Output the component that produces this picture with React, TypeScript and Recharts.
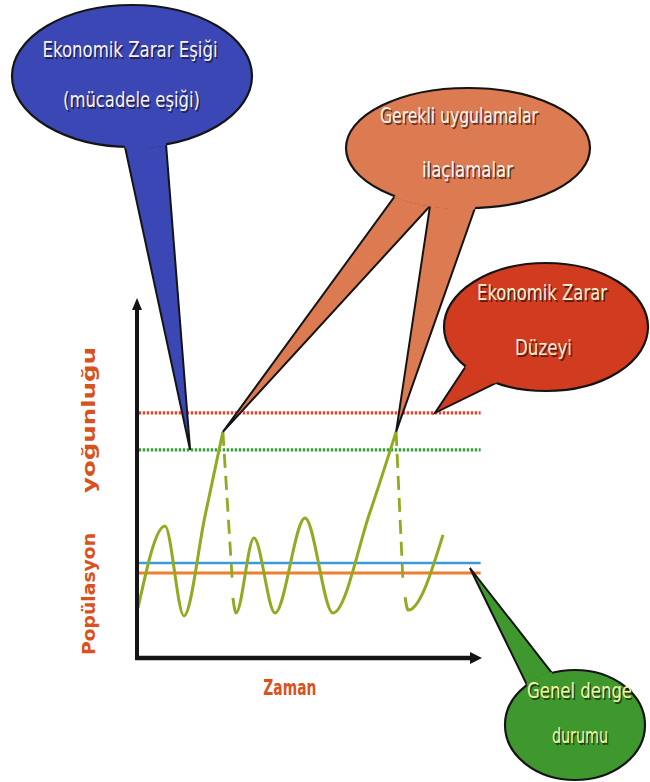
import React from 'react';
import { LineChart, Line, XAxis, YAxis, ReferenceLine, ReferenceArea } from 'recharts';

// ---- data (t = zaman, v = popülasyon yoğunluğu) ----
const X_DOMAIN = [0, 100];
const Y_DOMAIN = [0, 100];

const segment1 = [
  { t: 0.3, v: 13.9 },
  { t: 8.1, v: 36.7 },
  { t: 13.6, v: 11.7 },
  { t: 19.7, v: 39.4 },
  { t: 24.9, v: 62.8 },
];
const drop1 = [
  { t: 24.9, v: 62.8 },
  { t: 27.7, v: 20.3 },
];
const segment2 = [
  { t: 27.8, v: 16.7 },
  { t: 28.7, v: 12.5 },
  { t: 33.9, v: 33.3 },
  { t: 40.0, v: 12.5 },
  { t: 48.7, v: 38.9 },
  { t: 56.8, v: 12.5 },
  { t: 67.5, v: 40.4 },
  { t: 75.1, v: 62.8 },
];
const drop2 = [
  { t: 75.1, v: 62.8 },
  { t: 77.1, v: 21.1 },
];
const segment3 = [
  { t: 77.7, v: 16.9 },
  { t: 78.6, v: 13.3 },
  { t: 88.7, v: 34.2 },
];

const EIL = 68.1; // Ekonomik Zarar Düzeyi
const ETL = 57.8; // Ekonomik Zarar Eşiği
const BALANCE_UPPER = 26.4;
const BALANCE_LOWER = 23.6;
const LINE_START = 0.5;
const LINE_END = 99.6;

const xLabel = 'Zaman';
const yLabelParts = ['Popülasyon', 'yoğunluğu'];

// ---- callout layout (pixels) ; tips anchored on data ----
const FONT = "'Comic Sans MS', 'DejaVu Sans Condensed', 'Liberation Sans Narrow', sans-serif";

type Pt = [number, number];
const callouts = [
  {
    key: 'etl',
    cx: 132, cy: 76, rx: 120, ry: 71,
    fill: '#3b47b5', textColor: '#f4f2ff', fontSize: 22,
    tips: [{ t: 15.4, v: ETL }],
    bases: [[[125, 147], [166, 144]] as Pt[]],
    lines: [
      { text: 'Ekonomik Zarar Eşiği', x: 130, y: 57, w: 175 },
      { text: '(mücadele eşiği)', x: 131.5, y: 107, w: 137 },
    ],
  },
  {
    key: 'apps',
    cx: 468, cy: 148, rx: 122, ry: 60,
    fill: '#dc7a52', textColor: '#fff6ef', fontSize: 21,
    tips: [segment1[segment1.length - 1], segment2[segment2.length - 1]],
    bases: [
      [[395, 196], [430, 206]] as Pt[],
      [[430, 206], [475, 208]] as Pt[],
    ],
    lines: [
      { text: 'Gerekli uygulamalar', x: 459, y: 123, w: 158 },
      { text: 'ilaçlamalar', x: 467.5, y: 177, w: 91 },
    ],
  },
  {
    key: 'eil',
    cx: 546, cy: 327, rx: 102, ry: 64,
    fill: '#d13b1f', textColor: '#fcefd6', fontSize: 22,
    tips: [{ t: 86.4, v: EIL }],
    bases: [[[466, 366], [496, 383]] as Pt[]],
    lines: [
      { text: 'Ekonomik Zarar', x: 542, y: 300, w: 130 },
      { text: 'Düzeyi', x: 543.5, y: 355, w: 57 },
    ],
  },
  {
    key: 'balance',
    cx: 575, cy: 725, rx: 70, ry: 55,
    fill: '#3f982d', textColor: '#eef6a4', fontSize: 21,
    tips: [{ t: 96.5, v: (BALANCE_UPPER + BALANCE_LOWER) / 2 }],
    bases: [[[527, 685], [552, 673]] as Pt[]],
    lines: [
      { text: 'Genel denge', x: 579.5, y: 698, w: 105 },
      { text: 'durumu', x: 580, y: 743, w: 56 },
    ],
  },
];

function extend(tip: Pt, base: Pt, d: number): Pt {
  const dx = base[0] - tip[0];
  const dy = base[1] - tip[1];
  const L = Math.hypot(dx, dy) || 1;
  return [base[0] + (dx / L) * d, base[1] + (dy / L) * d];
}

function Callout({ c, toPx }: any) {
  const polys = c.bases.map((pair: Pt[], i: number) => {
    const tp = c.tips[i];
    const tip: Pt = toPx(tp.t, tp.v);
    const b1 = extend(tip, pair[0], 14);
    const b2 = extend(tip, pair[1], 14);
    return `${tip[0]},${tip[1]} ${b1[0]},${b1[1]} ${b2[0]},${b2[1]}`;
  });
  const clipId = `clip-${c.key}`;
  return (
    <g>
      <defs>
        <clipPath id={clipId}>
          <ellipse cx={c.cx} cy={c.cy} rx={c.rx + 1.6} ry={c.ry + 1.6} />
        </clipPath>
      </defs>
      {polys.map((p: string, i: number) => (
        <polygon key={`w${i}`} points={p} fill={c.fill} stroke="#151515" strokeWidth={2} />
      ))}
      <ellipse cx={c.cx} cy={c.cy} rx={c.rx} ry={c.ry} fill={c.fill} stroke="#151515" strokeWidth={2.2} />
      <g clipPath={`url(#${clipId})`}>
        {polys.map((p: string, i: number) => (
          <polygon key={`f${i}`} points={p} fill={c.fill} />
        ))}
      </g>
      {c.lines.map((l: any, i: number) => (
        <g key={`t${i}`}>
          <text x={l.x + 1.5} y={l.y + 1.5} textAnchor="middle" fontFamily={FONT} fontSize={c.fontSize}
            textLength={l.w} lengthAdjust="spacingAndGlyphs" fill="rgba(20,10,10,0.65)">{l.text}</text>
          <text x={l.x} y={l.y} textAnchor="middle" fontFamily={FONT} fontSize={c.fontSize}
            textLength={l.w} lengthAdjust="spacingAndGlyphs" fill={c.textColor}>{l.text}</text>
        </g>
      ))}
    </g>
  );
}

function Overlay(props: any) {
  const { x, y, width, height } = props;
  const toPx = (t: number, v: number): Pt => [
    x + ((t - X_DOMAIN[0]) / (X_DOMAIN[1] - X_DOMAIN[0])) * width,
    y + height - ((v - Y_DOMAIN[0]) / (Y_DOMAIN[1] - Y_DOMAIN[0])) * height,
  ];
  const [ox, oy] = toPx(X_DOMAIN[0], Y_DOMAIN[0]);
  const [xe] = toPx(X_DOMAIN[1], Y_DOMAIN[0]);
  const [, ye] = toPx(X_DOMAIN[0], Y_DOMAIN[1]);
  const axisColor = '#141414';
  const labelColor = '#d8521d';
  return (
    <g>
      {/* axes */}
      <line x1={ox} y1={oy + 2} x2={ox} y2={ye + 10} stroke={axisColor} strokeWidth={4} />
      <polygon points={`${ox},${ye} ${ox - 5},${ye + 12} ${ox + 5},${ye + 12}`} fill={axisColor} />
      <line x1={ox - 2} y1={oy} x2={xe - 10} y2={oy} stroke={axisColor} strokeWidth={4.5} />
      <polygon points={`${xe},${oy} ${xe - 12},${oy - 6} ${xe - 12},${oy + 6}`} fill={axisColor} />
      {/* axis labels */}
      <text x={toPx(44.3, 0)[0]} y={oy + 37} textAnchor="middle" fontFamily="'DejaVu Sans Condensed', 'DejaVu Sans', sans-serif"
        fontWeight="bold" fontSize={21} fill={labelColor} textLength={53} lengthAdjust="spacingAndGlyphs">{xLabel}</text>
      <text transform={`translate(${ox - 42},${oy - 64}) rotate(-90)`} textAnchor="middle"
        fontFamily="'DejaVu Sans Condensed', 'DejaVu Sans', sans-serif" fontWeight="bold" fontSize={18} fill={labelColor}
        textLength={122} lengthAdjust="spacingAndGlyphs">{yLabelParts[0]}</text>
      <text transform={`translate(${ox - 42},${oy - 238}) rotate(-90)`} textAnchor="middle"
        fontFamily="'DejaVu Sans Condensed', 'DejaVu Sans', sans-serif" fontWeight="bold" fontSize={18} fill={labelColor}
        textLength={146} lengthAdjust="spacingAndGlyphs">{yLabelParts[1]}</text>
      {/* callouts */}
      {callouts.map((c) => (
        <Callout key={c.key} c={c} toPx={toPx} />
      ))}
    </g>
  );
}

const curveColor = '#8fab22';

export default function App() {
  return (
    <div style={{ position: 'absolute', left: 0, top: 0, width: 650, height: 782, background: '#ffffff' }}>
      <LineChart width={650} height={782} margin={{ top: 298, right: 168, bottom: 124, left: 137 }}>
        <XAxis dataKey="t" type="number" domain={X_DOMAIN} allowDataOverflow hide />
        <YAxis type="number" domain={Y_DOMAIN} allowDataOverflow hide />
        <ReferenceLine ifOverflow="visible" segment={[{ x: LINE_START, y: EIL }, { x: LINE_END, y: EIL }]}
          stroke="#e2452a" strokeWidth={3.2} strokeDasharray="2.4 1.6" />
        <ReferenceLine ifOverflow="visible" segment={[{ x: LINE_START, y: ETL }, { x: LINE_END, y: ETL }]}
          stroke="#3c9a3e" strokeWidth={3.2} strokeDasharray="2.4 1.6" />
        <ReferenceLine ifOverflow="visible" segment={[{ x: 0.3, y: BALANCE_UPPER }, { x: LINE_END, y: BALANCE_UPPER }]}
          stroke="#3d9ad8" strokeWidth={2.6} />
        <ReferenceLine ifOverflow="visible" segment={[{ x: 0.3, y: BALANCE_LOWER }, { x: LINE_END, y: BALANCE_LOWER }]}
          stroke="#ef7f2c" strokeWidth={3} />
        <Line data={segment1} dataKey="v" type="monotone" stroke={curveColor} strokeWidth={3} dot={false} activeDot={false} isAnimationActive={false} />
        <Line data={drop1} dataKey="v" type="linear" stroke={curveColor} strokeWidth={2.8} strokeDasharray="14 8" dot={false} activeDot={false} isAnimationActive={false} />
        <Line data={segment2} dataKey="v" type="monotone" stroke={curveColor} strokeWidth={3} dot={false} activeDot={false} isAnimationActive={false} />
        <Line data={drop2} dataKey="v" type="linear" stroke={curveColor} strokeWidth={2.8} strokeDasharray="14 8" dot={false} activeDot={false} isAnimationActive={false} />
        <Line data={segment3} dataKey="v" type="monotone" stroke={curveColor} strokeWidth={3} dot={false} activeDot={false} isAnimationActive={false} />
        <ReferenceArea x1={X_DOMAIN[0]} x2={X_DOMAIN[1]} y1={Y_DOMAIN[0]} y2={Y_DOMAIN[1]} ifOverflow="visible"
          zIndex={2000} shape={(p: any) => <Overlay {...p} />} />
      </LineChart>
    </div>
  );
}
